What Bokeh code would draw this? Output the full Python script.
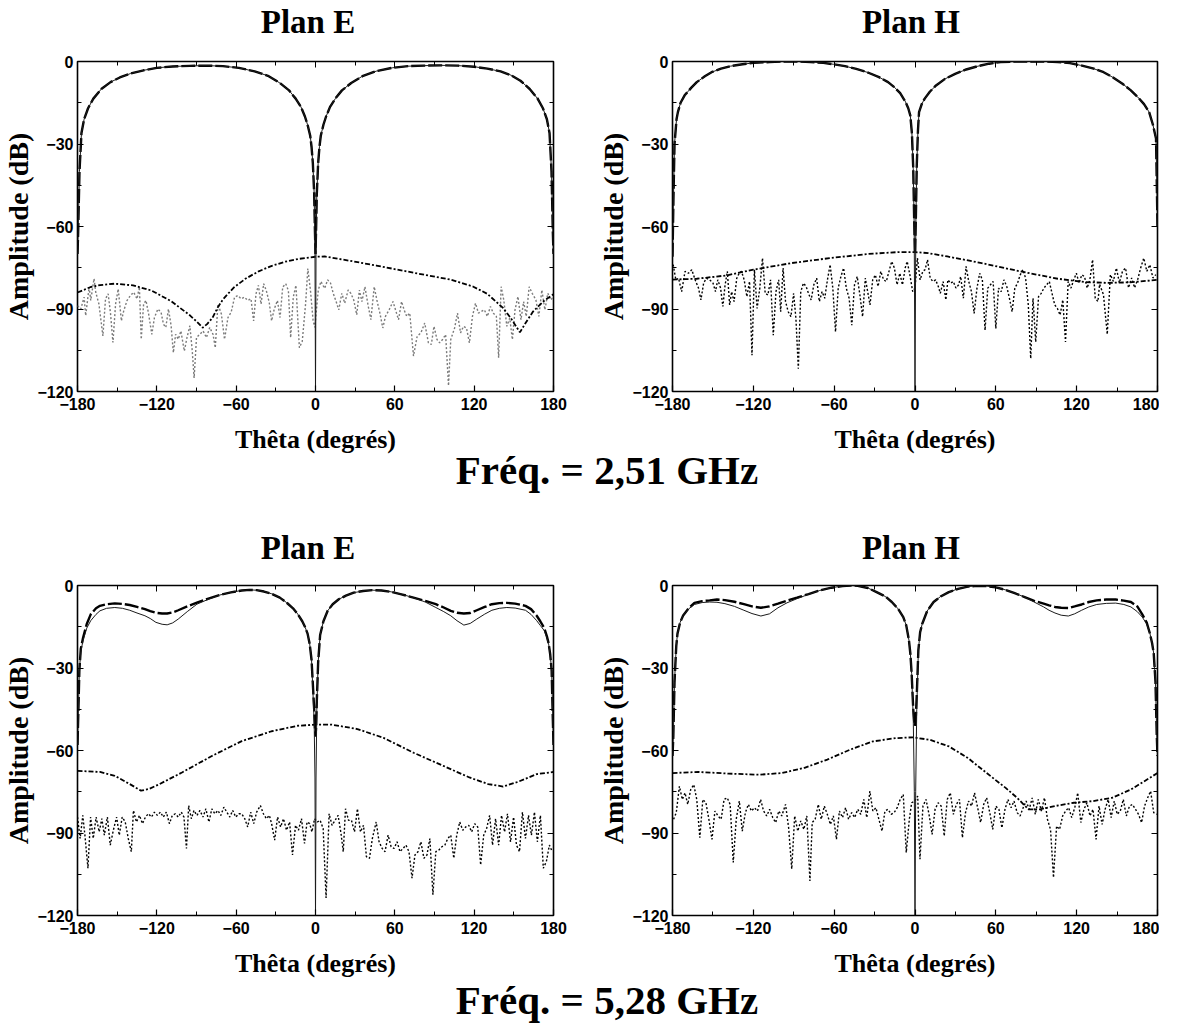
from bokeh.plotting import figure
from bokeh.models import FixedTicker, LinearAxis, Range1d, Div
from bokeh.layouts import column, row
from bokeh.embed import file_html
from bokeh.resources import INLINE

# ---------------- axis ticks ----------------
x_ticks = [-180, -120, -60, 0, 60, 120, 180]
x_minor = [-150, -90, -30, 30, 90, 150]
y_ticks = [-120, -90, -60, -30, 0]
y_minor = [-105, -75, -45, -15]

# ---------------- Plan E, 2.51 GHz ----------------
e1_theta = [-180, -179.5, -178.5, -177, -175, -172, -168, -162, -155, -148,
            -140, -130, -120, -108, -95, -82, -70, -58, -46, -36,
            -27, -20, -15, -11, -8, -6, -4, -3, -2, -1,
            -0.4, 0, 0.4, 1, 2, 3, 4, 6, 8, 11,
            15, 20, 27, 36, 46, 58, 70, 82, 95, 108,
            120, 130, 140, 148, 155, 162, 168, 172, 175, 177,
            178.5, 179.5, 180]
e1_solid = [-70, -62, -40, -26, -21, -17, -13.5, -10, -7.5, -5.8,
            -4.4, -3.2, -2.3, -1.8, -1.6, -1.5, -1.7, -2.3, -3.6, -5.2,
            -7.8, -10.5, -13.5, -16.5, -20, -23, -27, -31, -37, -48,
            -70, -120, -70, -48, -37, -31, -27, -23, -20, -16.5,
            -13.5, -10.5, -7.8, -5.2, -3.5, -2.3, -1.7, -1.5, -1.4, -1.5,
            -1.9, -2.6, -3.6, -5, -7, -10, -13.5, -17, -21, -26,
            -40, -62, -70]
e1_dashed = [-70, -62, -40, -26, -21, -17, -13.5, -10, -7.5, -5.8,
             -4.4, -3.2, -2.3, -1.8, -1.6, -1.5, -1.7, -2.3, -3.6, -5.2,
             -7.8, -10.5, -13.5, -16.5, -20, -23, -27, -31, -37, -48,
             -62, -70, -62, -48, -37, -31, -27, -23, -20, -16.5,
             -13.5, -10.5, -7.8, -5.2, -3.5, -2.3, -1.7, -1.5, -1.4, -1.5,
             -1.9, -2.6, -3.6, -5, -7, -10, -13.5, -17, -21, -26,
             -40, -62, -70]
e1_xsim_theta = [-180, -170, -163, -152, -138, -124, -109, -95, -90, -85.4,
                 -82, -78, -74, -70, -62, -53, -43, -33, -23, -13,
                 0, 7, 24, 46, 74, 102, 119, 130, 141.6, 148,
                 154.6, 159, 164.4, 172.9, 180]
e1_xsim = [-84, -82, -81.3, -80.8, -81.4, -83.3, -87.2, -92.3, -94.5, -96.8,
           -95.5, -93.3, -89.5, -86.5, -82.3, -79, -76.3, -74.3, -72.8, -71.8,
           -71, -70.9, -72.3, -74.2, -76.8, -79.3, -81.8, -84.5, -89.5, -93.5,
           -98.5, -95, -91, -87, -84.6]
e1_meas_theta = [-180, -177.5, -175, -173.8, -171.2, -170, -167.5, -166.2, -163.8, -160.8,
                 -158.8, -156.8, -155, -153.2, -151.2, -149.2, -146.8, -145, -142.5, -140,
                 -137.5, -135, -133.2, -131.8, -130, -128.2, -126.2, -123.8, -121.8, -119.2,
                 -116.8, -115, -113.2, -111.2, -109.2, -107.5, -105.8, -103.8, -101.8, -99.2,
                 -97.2, -95, -93.2, -91.8, -90, -87.5, -85, -82.5, -80, -77.5,
                 -75.8, -73.8, -71.2, -68.8, -66.2, -63.8, -61.2, -58.8, -56.2, -53.8,
                 -51.2, -48.8, -46.8, -45, -43.2, -41.2, -39.2, -37.2, -35, -33.2,
                 -31.2, -28.8, -26.8, -24.8, -22.5, -20.5, -18.8, -16.8, -14.8, -12.2,
                 -10, -7.5, -5.8, -3.8, -1.8, -0.5,
                 2.1, 4.1, 6.9, 9.2, 11.4, 13.4, 15.6, 17.6, 19.9, 22.1,
                 24.7, 26.7, 28.9, 31.2, 33.2, 35.1, 37.4, 39.7, 41.9, 44.4,
                 46.4, 48.7, 50.9, 52.9, 55.7, 58.6, 60.5, 62.8, 65.1, 67.0,
                 69.0, 71.3, 74.1, 76.9, 79.7, 82.6, 85.4, 87.6, 89.6, 91.9,
                 93.9, 96.1, 98.4, 100.6, 102.3, 105.2, 107.4, 109.7, 111.9, 114.2,
                 116.4, 118.7, 121.0, 123.2, 125.5, 127.7, 130.0, 132.3, 134.5, 136.8,
                 138.5, 140.4, 142.4, 144.7, 146.9, 148.9, 150.9, 153.1, 155.4, 157.4,
                 159.4, 161.6, 163.9, 166.7, 168.9, 171.2, 173.5, 175.7, 178.0, 180]
e1_meas = [-88.8, -90.0, -85.7, -92.4, -82.0, -86.9, -79.0, -83.9, -88.2, -99.8,
           -86.3, -84.5, -91.8, -102.2, -88.2, -82.7, -94.3, -90.6, -86.9, -85.1,
           -83.9, -86.3, -82.0, -101.0, -88.2, -86.9, -91.8, -99.2, -93.1, -90.0,
           -91.2, -95.5, -96.7, -90.0, -96.1, -105.9, -99.2, -101.0, -98.0, -105.3,
           -100.4, -96.1, -105.3, -115.1, -100.4, -99.2, -98.0, -100.4, -96.7, -99.2,
           -104.1, -88.2, -91.8, -101.0, -93.1, -91.2, -85.7, -85.1, -86.3, -85.7,
           -86.9, -86.3, -94.3, -84.5, -81.4, -88.2, -80.8, -83.3, -87.6, -94.3,
           -90.0, -86.9, -93.1, -82.0, -80.8, -83.3, -100.4, -85.7, -81.4, -104.1,
           -101.7, -88.2, -75.3, -83.3, -94.3, -96.7,
           -83.1, -80.0, -82.5, -79.4, -80.6, -84.3, -87.3, -90.3, -84.3, -87.9,
           -83.1, -84.3, -86.7, -92.1, -83.1, -87.3, -81.9, -88.5, -93.9, -81.9,
           -86.7, -91.5, -96.9, -92.7, -90.3, -87.3, -90.3, -93.9, -87.3, -90.3,
           -92.7, -91.5, -107.1, -99.9, -98.7, -95.1, -102.3, -102.9, -96.3, -101.1,
           -102.3, -101.1, -99.3, -117.9, -101.1, -96.9, -91.5, -98.7, -96.3, -96.9,
           -102.3, -92.7, -87.9, -91.5, -90.9, -90.3, -92.7, -89.1, -91.5, -92.7,
           -107.7, -81.9, -86.7, -96.3, -93.3, -101.1, -90.3, -85.5, -93.9, -87.3,
           -92.7, -81.9, -84.3, -86.7, -92.7, -83.1, -90.3, -84.3, -86.7, -85.5]

# ---------------- Plan H, 2.51 GHz ----------------
h1_theta = [-180, -179.3, -178.5, -177, -176, -174, -171, -166, -162, -156,
            -151, -144, -137, -128, -120, -108, -97, -87, -77.5, -68,
            -60.6, -52, -43.6, -35, -26.7, -20, -15.4, -11, -7, -5,
            -3.5, -2.3, -1.3, -0.6, 0, 0.6, 1.3, 2.2, 3, 5,
            7.2, 11, 15.6, 22, 29.8, 38, 46.7, 55, 63.6, 75,
            86.2, 96, 106, 115, 123, 132, 140, 147, 154, 160,
            165.3, 170, 173.8, 176.6, 178.9, 179.5, 180]
h1_solid = [-71, -50, -30, -21, -18.4, -15, -12.3, -9.5, -7.5, -5.4,
            -3.9, -2.6, -1.7, -1, -0.5, -0.2, 0, 0, -0.2, -0.5,
            -1, -1.7, -2.7, -4, -5.7, -7.5, -9.3, -11.5, -14.7, -17,
            -19.6, -26, -38.9, -60, -120, -60, -38, -25, -18.4, -15.5,
            -13.5, -11, -8.7, -6.4, -4.5, -2.9, -1.7, -0.8, -0.2, 0,
            0, 0, -0.2, -0.6, -1.4, -2.5, -3.9, -5.8, -8.1, -10.4,
            -12.9, -15.5, -18.4, -23, -28, -45, -60]
h1_dashed = [-71, -50, -30, -21, -18.4, -15, -12.3, -9.5, -7.5, -5.4,
             -3.9, -2.6, -1.7, -1, -0.5, -0.2, 0, 0, -0.2, -0.5,
             -1, -1.7, -2.7, -4, -5.7, -7.5, -9.3, -11.5, -14.7, -17,
             -19.6, -26, -38.9, -58, -70, -58, -38, -25, -18.4, -15.5,
             -13.5, -11, -8.7, -6.4, -4.5, -2.9, -1.7, -0.8, -0.2, 0,
             0, 0, -0.2, -0.6, -1.4, -2.5, -3.9, -5.8, -8.1, -10.4,
             -12.9, -15.5, -18.4, -23, -28, -45, -60]
h1_xsim_theta = [-180, -162, -140, -120, -91.6, -63.4, -35, -12.6, 0, 10,
                 24, 49.5, 77.8, 106, 125.7, 142.7, 159.6, 180]
h1_xsim = [-79.3, -79, -77.8, -75.7, -73.3, -71.5, -70, -69.3, -69.3, -69.7,
           -70.9, -73.3, -76.3, -79, -80.2, -80.5, -80.3, -79.4]
h1_meas_theta = [-179.5, -177.5, -175.5, -173.2, -170.7, -168.2, -165.7, -163.2, -160.7, -158.9,
                 -156.9, -154.9, -152.4, -149.9, -148.1, -146.4, -144.3, -142.6, -141.1, -139.3,
                 -137.6, -136.1, -134.3, -132.3, -130.5, -128.8, -126.8, -124.8, -122.8, -121.0,
                 -119.2, -117.2, -115.2, -113.2, -111.2, -109.2, -107.2, -105.2, -103.2, -101.2,
                 -99.7, -97.9, -96.1, -94.1, -92.1, -90.1, -88.4, -86.6, -84.8, -82.8,
                 -80.8, -79.1, -77.1, -75.1, -73.0, -71.0, -69.0, -67.0, -65.0, -63.0,
                 -61.0, -59.0, -57.0, -55.0, -53.0, -51.0, -48.9, -46.9, -44.9, -42.9,
                 -40.9, -38.9, -36.9, -34.9, -33.4, -31.4, -29.4, -27.4, -25.4, -23.3,
                 -21.3, -19.3, -17.3, -15.3, -13.3, -11.3, -9.3, -7.3, -5.8, -3.8,
                 -1.7, 0.0,
                 1.8, 3.8, 5.8, 7.5, 9.3, 11.3, 13.3, 15.3, 17.3, 18.8,
                 20.9, 22.9, 24.4, 26.4, 28.4, 30.4, 32.4, 33.9, 35.9, 37.9,
                 39.9, 41.9, 43.9, 46.0, 48.0, 50.0, 52.0, 54.0, 56.0, 58.0,
                 60.0, 62.0, 64.0, 66.0, 68.1, 70.1, 72.1, 74.1, 76.1, 78.1,
                 80.1, 82.1, 84.1, 85.9, 87.6, 89.6, 91.7, 93.7, 95.7, 97.7,
                 99.7, 101.7, 103.7, 105.7, 107.7, 109.7, 111.7, 113.7, 115.8, 117.8,
                 119.8, 121.8, 123.8, 125.8, 127.8, 129.8, 131.8, 133.8, 135.8, 137.0,
                 139.9, 142.7, 145.0, 147.2, 149.5, 151.7, 154.0, 156.3, 158.5, 160.8,
                 163.0, 165.3, 167.5, 169.8, 172.1, 174.3, 176.6, 178.8]
h1_meas = [-73.9, -79.4, -78.8, -83.7, -76.3, -77.0, -75.7, -79.4, -82.4, -86.7,
           -80.6, -78.8, -79.4, -80.6, -83.7, -79.4, -82.4, -89.1, -81.8, -76.3,
           -88.5, -83.7, -87.3, -78.8, -77.0, -76.3, -79.4, -85.5, -80.0, -106.8,
           -75.7, -89.8, -82.4, -71.5, -84.3, -84.9, -79.4, -99.5, -83.7, -79.4,
           -91.0, -75.1, -87.3, -91.0, -92.8, -84.3, -93.4, -111.7, -83.7, -80.6,
           -81.8, -84.3, -86.7, -81.2, -78.8, -87.3, -83.7, -86.1, -79.4, -73.9,
           -82.4, -98.3, -82.4, -78.2, -75.1, -82.4, -86.1, -95.9, -81.2, -78.2,
           -84.9, -92.8, -78.8, -84.3, -88.5, -79.4, -77.6, -81.8, -76.3, -79.4,
           -80.0, -76.3, -72.7, -75.1, -81.2, -77.0, -81.2, -75.1, -72.7, -77.6,
           -83.7, -82.4,
           -71.5, -79.4, -76.3, -75.7, -72.1, -78.8, -80.0, -79.4, -81.8, -84.3,
           -80.0, -86.7, -79.4, -80.6, -80.0, -82.4, -81.2, -78.2, -86.1, -74.5,
           -80.0, -83.7, -91.6, -82.4, -77.0, -79.4, -97.7, -82.4, -81.2, -80.0,
           -97.1, -82.4, -83.7, -79.4, -81.8, -86.1, -91.0, -82.4, -80.6, -77.6,
           -75.7, -78.8, -88.5, -108.0, -86.1, -102.0, -85.5, -84.3, -82.4, -81.2,
           -80.0, -84.3, -88.5, -89.8, -92.2, -86.7, -102.0, -80.0, -82.4, -79.4,
           -77.0, -80.6, -77.6, -78.2, -82.4, -79.4, -72.1, -86.1, -87.3, -81.0,
           -84.8, -99.2, -77.5, -79.9, -75.1, -80.5, -76.3, -75.1, -82.3, -78.7,
           -82.3, -79.3, -75.1, -71.5, -76.3, -73.9, -78.7, -77.5]

# ---------------- Plan E, 5.28 GHz ----------------
e2_theta = [-180, -179.3, -178.6, -177.5, -175.8, -173, -170, -166, -163, -158,
            -151.8, -146, -140.5, -135, -129, -125, -120.7, -116, -112.2, -108,
            -103.8, -97, -89.7, -81, -72.7, -64, -55.8, -50, -44.5, -39,
            -33.2, -27, -21.9, -17, -13.4, -10, -7.8, -6, -4.4, -3,
            -2.1, -1, -0.4, 0, 0.4, 1, 2, 3.5, 6, 9.2,
            13, 17.6, 23, 28.9, 36, 43, 50, 57.2, 65, 74.1,
            83, 91, 97, 102.3, 107, 112.2, 117, 122, 128, 133.4,
            139, 144.7, 151, 158.8, 163, 167.3, 170, 173, 175, 176.3,
            177.5, 178.6, 179.3, 180]
e2_solid = [-58, -45, -31, -24, -20, -15.5, -12.8, -10.5, -9.2, -8.3,
            -8, -8.3, -9, -10, -11, -12, -13.4, -14.1, -14.3, -13.6,
            -12.2, -9.5, -6.8, -5, -3.5, -2.5, -1.8, -1.6, -1.7, -2.2,
            -3, -4.4, -6.2, -8.3, -10.4, -13, -15.2, -17.5, -21.2, -27,
            -36.8, -50, -70, -120, -70, -45, -28, -18, -13, -9.2,
            -6.8, -5, -3.7, -2.6, -2, -1.7, -1.8, -2.3, -3.2, -4.4,
            -6, -8, -9.5, -11, -12.8, -14.4, -13.8, -12.2, -10.4, -9,
            -8.3, -8, -8.2, -9, -10.5, -12.8, -14.5, -16.4, -19, -21.2,
            -25, -31, -45, -58]
e2_dashed = [-58, -45, -31, -23, -19, -14, -10.5, -8.3, -7.4, -6.8,
             -6.5, -6.7, -7.1, -7.8, -8.6, -9.3, -9.9, -10.2, -10.2, -9.8,
             -9, -7.6, -6.2, -4.8, -3.5, -2.5, -1.8, -1.6, -1.7, -2.2,
             -3, -4.4, -6.2, -8.3, -10.4, -13, -15.2, -17.5, -21.2, -27,
             -35, -45, -52, -55, -52, -42, -28, -18, -13, -9.2,
             -6.8, -5, -3.7, -2.6, -2, -1.7, -1.8, -2.3, -3.2, -4.4,
             -5.6, -6.8, -8, -9.2, -9.9, -10.2, -10, -9, -7.8, -6.8,
             -6.4, -6.3, -6.6, -7.4, -8.6, -11, -13, -15.5, -18.5, -21,
             -25, -31, -45, -58]
e2_xsim_theta = [-180, -163, -151.8, -140.5, -132, -126, -117.9, -101, -78.4, -55.8,
                 -33.2, -13.4, 0, 12.4, 31.7, 51.5, 74.1, 96.7, 116.4, 130.6,
                 141.9, 153.1, 167.3, 180]
e2_xsim = [-67.4, -67.8, -69.2, -72.2, -74.6, -74, -72.2, -68, -62, -56.6,
           -53, -51, -50.6, -50.6, -52.2, -55.4, -60.8, -65.6, -69.8, -72.2,
           -73.1, -71.4, -68.6, -67.8]
e2_meas_theta = [-180.0, -178.0, -176.0, -174.4, -172.1, -170.1, -168.1, -165.9, -163.6, -161.6,
                 -159.7, -157.4, -155.2, -152.9, -150.4, -148.4, -146.2, -143.9, -141.6, -139.3,
                 -137.7, -135.4, -133.1, -130.9, -128.6, -126.4, -124.1, -121.8, -119.6, -117.3,
                 -115.1, -112.8, -110.5, -108.3, -106.0, -103.8, -101.5, -99.5, -97.6, -95.9,
                 -93.9, -91.9, -89.7, -87.4, -85.1, -82.9, -80.6, -78.4, -76.1, -73.8,
                 -71.6, -69.3, -67.1, -64.8, -62.6, -60.3, -58.0, -55.8, -53.5, -51.3,
                 -49.0, -46.7, -44.5, -41.7, -39.4, -37.1, -34.9, -33.2, -30.9, -28.7,
                 -26.4, -24.2, -21.9, -19.6, -17.4, -15.1, -12.9, -10.6, -8.3, -6.4,
                 -4.4, -2.7, -0.7, 1.3, 3.5, 5.8, 8.0, 10.3, 12.5, 14.8,
                 17.1, 19.3, 21.0, 22.7, 25.0, 27.2, 29.5, 31.7, 34.0, 36.3,
                 38.5, 40.8, 43.0, 45.9, 48.1, 50.4, 52.6, 54.9, 57.2, 59.4,
                 61.7, 63.9, 66.2, 68.4, 70.7, 73.0, 75.2, 77.5, 79.7, 82.0,
                 84.3, 86.5, 88.8, 91.0, 93.3, 95.6, 97.8, 100.1, 102.3, 104.6,
                 106.8, 109.1, 111.4, 113.6, 115.9, 118.1, 120.4, 122.7, 124.9, 127.2,
                 129.4, 131.7, 133.9, 136.2, 138.5, 140.7, 143.0, 145.2, 147.5, 149.8,
                 152.0, 154.3, 156.5, 158.8, 161.1, 163.3, 165.6, 167.8, 170.1, 172.3,
                 174.6, 176.9, 179.1]
e2_meas = [-84.2, -92.0, -83.6, -90.8, -102.8, -84.2, -92.0, -84.2, -89.6, -84.8,
           -90.8, -84.2, -94.4, -89.0, -84.2, -90.8, -84.2, -86.0, -92.0, -96.8,
           -81.8, -86.0, -83.6, -86.6, -84.2, -83.0, -84.2, -82.4, -83.6, -82.4,
           -84.2, -82.4, -86.6, -83.6, -83.0, -84.2, -82.4, -84.2, -95.6, -80.0,
           -84.8, -81.8, -83.6, -81.8, -84.2, -81.2, -86.0, -81.2, -83.0, -81.8,
           -83.6, -80.6, -82.4, -84.2, -81.8, -84.2, -83.0, -83.0, -84.8, -87.8,
           -82.4, -86.6, -82.4, -80.0, -83.0, -84.8, -83.6, -86.6, -92.6, -84.2,
           -87.8, -84.8, -89.0, -86.0, -98.0, -87.2, -89.0, -84.8, -93.8, -86.0,
           -86.6, -89.6, -84.8, -86.0, -85.4, -88.4, -113.6, -83.0, -87.2, -85.4,
           -83.6, -90.2, -96.8, -81.2, -85.4, -85.4, -89.6, -81.2, -89.6, -87.2,
           -98.6, -99.2, -92.0, -86.0, -93.2, -95.6, -96.8, -90.8, -95.0, -95.6,
           -93.2, -96.8, -95.6, -94.4, -96.8, -106.4, -98.0, -96.8, -93.2, -99.2,
           -98.0, -92.0, -112.4, -96.8, -96.2, -95.0, -94.4, -92.0, -90.8, -99.2,
           -90.8, -86.0, -89.0, -87.8, -87.2, -89.6, -86.6, -87.8, -101.6, -90.8,
           -88.4, -83.6, -94.4, -84.8, -94.4, -83.6, -89.6, -83.0, -93.2, -84.2,
           -94.4, -96.8, -82.4, -92.0, -83.6, -90.8, -82.4, -93.2, -83.6, -102.8,
           -100.4, -94.4, -96.8]

# ---------------- Plan H, 5.28 GHz ----------------
h2_theta = [-180, -179.4, -178.5, -177.2, -176.3, -174.4, -172.1, -168, -163.7, -158,
            -152.4, -147, -141.1, -134, -127, -121, -114.4, -108, -101.7, -95,
            -87.6, -79, -70.7, -62, -53.8, -48, -42.5, -35, -28.5, -22,
            -17.2, -12.5, -8.7, -6.5, -4.5, -3.4, -2.5, -1.3, -0.5, 0,
            0.5, 1.3, 2.5, 3.8, 5.4, 9, 13.8, 19, 25.1, 32,
            39.2, 46, 53.2, 60, 67.3, 74, 81.4, 88, 95.5, 99.5,
            103.9, 108.5, 113.8, 118.5, 123.7, 129, 134.9, 142, 149, 155,
            160.3, 165, 168.7, 172, 174.4, 176, 177.2, 178.5, 179.4, 180]
h2_solid = [-62, -55, -35, -22, -17.5, -13.5, -10.9, -8.5, -6.9, -6.2,
            -6, -6.1, -6.6, -7.6, -9, -10.2, -11.1, -10.3, -8.1, -6.3,
            -4.8, -3.2, -1.8, -0.8, -0.2, 0, -0.1, -0.9, -2.4, -4,
            -6, -8.5, -11.5, -14.5, -19.9, -25, -32, -48, -75, -120,
            -75, -45, -23.5, -17, -13.9, -9.3, -6, -4, -2.4, -1.2,
            -0.4, -0.1, -0.2, -0.7, -1.6, -2.8, -4.2, -5.9, -7.8, -9,
            -10, -10.8, -11.1, -10.3, -9, -7.8, -6.9, -6.5, -6.4, -6.9,
            -7.8, -9.5, -11.5, -14, -17.5, -21, -24.7, -35, -53.7, -62]
h2_dashed = [-62, -55, -35, -22, -17.5, -13.5, -10.9, -8.3, -6.3, -5.7,
             -5.4, -5.1, -5.3, -5.9, -6.8, -7.6, -8.1, -7.6, -6.6, -5.5,
             -4.4, -3.1, -1.8, -0.8, -0.2, 0, -0.1, -0.9, -2.4, -4,
             -6, -8.5, -11.5, -14.5, -19.9, -25, -32, -45, -50, -51,
             -49, -40, -23.5, -17, -13.9, -9.3, -6, -4, -2.4, -1.2,
             -0.4, -0.1, -0.2, -0.7, -1.6, -2.8, -4.2, -5.5, -6.6, -7.2,
             -7.8, -8.1, -8.2, -7.6, -6.9, -6, -5.4, -5.1, -5.1, -5.5,
             -6, -7.6, -10.5, -13.5, -17.5, -21, -24.7, -35, -53.7, -62]
h2_xsim_theta = [-180, -160.8, -138.3, -115.8, -98.9, -82, -65.1, -48.2, -31.3, -14.4,
                 -1.7, 11, 25.1, 39.2, 53.2, 67.3, 75.8, 84.2, 92.7, 103.9,
                 118, 132.1, 146.2, 160.3, 180]
h2_xsim = [-68.2, -67.8, -68.4, -68.8, -68.2, -66.3, -63.3, -59.7, -56.7, -55.5,
           -55.2, -56.1, -58.5, -62.7, -68.2, -73.6, -77.2, -81.4, -81.4, -80.2,
           -79, -78.4, -77.2, -74.2, -68.2]
h2_meas_theta = [-179.2, -177.2, -174.9, -172.7, -170.7, -168.7, -166.5, -164.2, -162.0, -159.7,
                 -157.5, -155.2, -153.0, -150.7, -148.5, -146.2, -143.9, -141.7, -139.4, -137.2,
                 -134.9, -132.7, -130.4, -128.2, -125.9, -123.7, -121.4, -119.2, -116.9, -114.6,
                 -112.4, -110.1, -107.9, -105.6, -103.4, -101.1, -98.9, -96.1, -93.8, -91.5,
                 -89.3, -87.0, -84.8, -82.5, -80.3, -78.0, -76.3, -74.1, -71.8, -69.6,
                 -67.3, -65.1, -62.8, -60.6, -58.3, -56.1, -53.8, -51.5, -49.3, -47.0,
                 -44.8, -42.5, -40.3, -38.0, -35.8, -33.5, -31.3, -29.0, -26.8, -24.5,
                 -22.3, -20.0, -17.7, -15.5, -13.2, -11.0, -8.7, -6.5, -4.2, -2.5,
                 -0.3, 2.0, 3.7, 5.9, 8.2, 10.4, 12.7, 14.9, 17.2, 19.4,
                 21.7, 23.9, 26.2, 28.5, 30.7, 33.0, 35.2, 37.5, 39.7, 42.0,
                 44.2, 46.5, 48.7, 51.0, 53.2, 55.5, 57.7, 60.0, 62.3, 64.5,
                 66.8, 69.0, 71.3, 73.5, 75.8, 78.0, 80.3, 82.5, 84.8, 87.0,
                 89.3, 91.5, 93.8, 96.1, 98.3, 100.6, 102.8, 105.1, 107.3, 109.6,
                 111.8, 114.1, 116.3, 118.6, 120.8, 123.1, 125.4, 127.6, 129.9, 132.1,
                 134.4, 136.6, 138.9, 141.1, 143.4, 145.6, 147.9, 150.1, 152.4, 154.6,
                 156.9, 159.2, 161.4, 163.7, 165.9, 168.2, 170.4, 172.7, 174.9, 177.2,
                 179.4]
h2_meas = [-85.0, -82.6, -73.0, -77.8, -75.4, -79.6, -74.2, -72.4, -77.8, -91.7,
           -77.8, -79.0, -85.0, -92.3, -82.0, -83.8, -85.0, -77.8, -77.2, -79.6,
           -100.7, -85.0, -78.4, -89.3, -82.6, -79.6, -82.0, -80.8, -82.0, -77.8,
           -82.0, -83.8, -81.4, -84.4, -86.2, -82.0, -83.8, -79.6, -88.1, -103.1,
           -83.8, -89.3, -85.6, -88.7, -83.8, -107.4, -86.2, -85.0, -79.6, -85.0,
           -80.2, -83.2, -86.9, -83.8, -92.3, -82.0, -84.4, -80.8, -85.0, -82.6,
           -84.4, -81.4, -83.2, -77.8, -84.4, -74.8, -82.0, -80.8, -85.0, -89.3,
           -82.0, -81.4, -83.2, -82.6, -80.8, -77.8, -76.0, -97.1, -85.0, -79.0,
           -78.4, -76.6, -99.5, -80.2, -77.8, -83.2, -90.5, -81.4, -79.0, -80.2,
           -91.1, -77.8, -75.4, -83.2, -79.6, -77.8, -91.7, -82.6, -78.4, -80.2,
           -75.4, -80.8, -86.2, -79.6, -77.2, -82.6, -88.7, -80.2, -81.4, -88.1,
           -81.4, -77.8, -80.8, -78.4, -82.6, -83.8, -80.8, -78.4, -81.4, -77.2,
           -83.2, -77.8, -82.0, -77.2, -85.0, -88.7, -106.2, -87.5, -88.7, -83.8,
           -82.0, -80.8, -84.4, -80.8, -75.4, -86.2, -81.4, -79.0, -83.8, -81.4,
           -92.3, -80.2, -86.9, -81.4, -77.8, -84.4, -78.4, -83.2, -82.0, -77.8,
           -83.8, -80.2, -79.6, -81.4, -83.2, -86.2, -80.2, -77.2, -74.8, -82.6,
           -83.2]

SERIF = "Liberation Serif"
SANS = "Liberation Sans"


def make_panel(width, height, bl, br, bt, bb,
               m_t, solid, dashed, x_t, xsim, ms_t, ms, ms_color):
    assert len(m_t) == len(solid) == len(dashed)
    assert len(x_t) == len(xsim)
    assert len(ms_t) == len(ms), (len(ms_t), len(ms))
    p = figure(width=width, height=height,
               x_range=Range1d(-180, 180), y_range=Range1d(-120, 0),
               output_backend="svg", toolbar_location=None,
               min_border_left=bl, min_border_right=br,
               min_border_top=bt, min_border_bottom=bb,
               x_axis_label="Thêta (degrés)", y_axis_label="Amplitude (dB)",
               margin=0)
    p.grid.visible = False
    p.outline_line_color = "black"
    p.outline_line_width = 1.6
    p.outline_line_alpha = 1
    p.background_fill_color = "white"
    p.border_fill_color = "white"

    # data
    p.line(ms_t, ms, line_color=ms_color, line_width=1.4, line_dash="2 2")
    p.line(x_t, xsim, line_color="black", line_width=1.8, line_dash="5 2 2 2")
    p.line(m_t, dashed, line_color="black", line_width=2.4, line_dash="14 3")
    p.line(m_t, solid, line_color="#1a1a1a", line_width=1.0)

    for ax in p.xaxis:
        ax.ticker = FixedTicker(ticks=x_ticks, minor_ticks=x_minor)
    for ax in p.yaxis:
        ax.ticker = FixedTicker(ticks=y_ticks, minor_ticks=y_minor)
    for ax in list(p.xaxis) + list(p.yaxis):
        ax.axis_line_color = None
        ax.major_tick_in = 6
        ax.major_tick_out = 0
        ax.minor_tick_in = 4
        ax.minor_tick_out = 0
        ax.major_tick_line_color = "black"
        ax.minor_tick_line_color = "black"
        ax.major_tick_line_width = 1.2
        ax.minor_tick_line_width = 1.0
        ax.major_label_text_font = SANS
        ax.major_label_text_font_style = "bold"
        ax.major_label_text_font_size = "16px"
        ax.major_label_text_color = "black"
        ax.axis_label_text_font = SERIF
        ax.axis_label_text_font_style = "bold"
        ax.axis_label_text_color = "black"
    p.xaxis.axis_label_text_font_size = "26px"
    p.yaxis.axis_label_text_font_size = "28px"
    p.xaxis.major_label_standoff = 6
    p.xaxis.axis_label_standoff = 12
    p.yaxis.major_label_standoff = 4
    p.yaxis.axis_label_standoff = 0

    top = LinearAxis(ticker=FixedTicker(ticks=x_ticks, minor_ticks=x_minor))
    right = LinearAxis(ticker=FixedTicker(ticks=y_ticks, minor_ticks=y_minor))
    for ax in (top, right):
        ax.axis_line_color = None
        ax.major_tick_in = 6
        ax.major_tick_out = 0
        ax.minor_tick_in = 4
        ax.minor_tick_out = 0
        ax.major_tick_line_color = "black"
        ax.minor_tick_line_color = "black"
        ax.major_label_text_font_size = "0px"
        ax.major_label_standoff = 0
        ax.major_label_text_color = None
    p.add_layout(top, "above")
    p.add_layout(right, "right")
    return p


p1 = make_panel(595, 421, 66, 42, 23, 68,
                e1_theta, e1_solid, e1_dashed, e1_xsim_theta, e1_xsim,
                e1_meas_theta, e1_meas, "#7a7a7a")
p2 = make_panel(564, 421, 75, 2, 23, 68,
                h1_theta, h1_solid, h1_dashed, h1_xsim_theta, h1_xsim,
                h1_meas_theta, h1_meas, "black")
p3 = make_panel(595, 420, 66, 42, 22, 68,
                e2_theta, e2_solid, e2_dashed, e2_xsim_theta, e2_xsim,
                e2_meas_theta, e2_meas, "black")
p4 = make_panel(564, 420, 75, 2, 22, 68,
                h2_theta, h2_solid, h2_dashed, h2_xsim_theta, h2_xsim,
                h2_meas_theta, h2_meas, "black")

TXT = "font-family:'Liberation Serif';font-weight:bold;color:black;white-space:nowrap;"


def title_row(left_text, right_text, h, pad):
    html = ('<div style="position:relative;width:1163px;height:%dpx;%s">'
            '<div style="position:absolute;left:8px;top:%dpx;width:600px;text-align:center;'
            'font-size:33px;line-height:38px;">%s</div>'
            '<div style="position:absolute;left:711px;top:%dpx;width:400px;text-align:center;'
            'font-size:33px;line-height:38px;">%s</div></div>'
            % (h, TXT, pad, left_text, pad, right_text))
    return Div(text=html, width=1163, height=h, margin=0)


def suptitle(text, h, lh, top):
    html = ('<div style="position:relative;width:1163px;height:%dpx;%s">'
            '<div style="position:absolute;left:257px;top:%dpx;width:700px;text-align:center;'
            'font-size:41px;line-height:%dpx;">%s</div></div>' % (h, TXT, top, lh, text))
    return Div(text=html, width=1163, height=h, margin=0)


t1 = title_row("Plan E", "Plan H", 38, 3)
s1 = suptitle("Fréq. = 2,51 GHz", 24, 40, -9)
t2 = title_row("Plan E", "Plan H", 80, 46)
s2 = suptitle("Fréq. = 5,28 GHz", 36, 38, -2)

layout = column(t1, row(p1, p2), s1, t2, row(p3, p4), s2)

with open("out.html", "w") as f:
    f.write(file_html(layout, INLINE, title="Diagrammes"))
